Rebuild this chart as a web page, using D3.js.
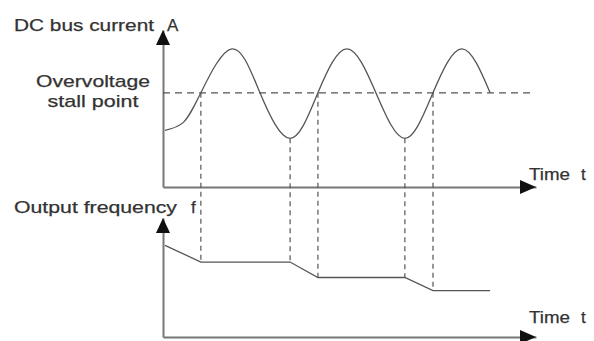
<!DOCTYPE html>
<html lang="en">
<head>
<meta charset="UTF-8" />
<title>Overvoltage stall</title>
<style>
  body { margin: 0; background: #fff; }
  svg text { font-family: "Liberation Sans", Arial, sans-serif; fill: #333; stroke: #333; stroke-width: 0.25px; }
</style>
</head>
<body>
<div id="chart"></div>
<script src="https://cdn.jsdelivr.net/npm/d3@7/dist/d3.min.js"></script>
<script>
// time in arbitrary units along both panels
var currentTimes  = [0.07, 0.7, 1.32, 2.40, 3.38, 4.43, 5.40, 6.41, 7.42, 8.43, 9.41, 10.42, 11.40];
var currentValues = [36,   41,  60,   88,   60,   31,   60,   88,   60,   31,   60,   88,    60];

var freqTimes  = [0.07, 1.32, 4.43, 5.40, 8.43, 9.41, 11.40];
var freqValues = [77,   63,   63,   50,   50,   39,   39];

var stallLevel = 60;
var stallEnd = 12.8;

// dashed drop lines: time, top (current) value, bottom (frequency) value
var markerTimes = [1.32, 4.43, 5.40, 8.43, 9.41];
var markerTop    = [60, 31, 60, 31, 60];
var markerBottom = [63, 63, 50, 50, 39];

var w = 594, h = 341;
var svg = d3.select("#chart").append("svg")
  .attr("width", w).attr("height", h);

var xScale = d3.scaleLinear().domain([0, 13]).range([163, 536]);
var yTop = d3.scaleLinear().domain([0, 100]).range([187, 30]);
var yBot = d3.scaleLinear().domain([0, 100]).range([337, 218]);

var axisColor = "#777";
var lineColor = "#555";

function drawAxes(yScale) {
  svg.append("g")
    .attr("transform", "translate(0," + yScale(0) + ")")
    .call(d3.axisBottom(xScale).tickValues([]).tickSizeOuter(0));
  svg.append("g")
    .attr("transform", "translate(" + xScale(0) + ",0)")
    .call(d3.axisLeft(yScale).tickValues([]).tickSizeOuter(0));
  svg.selectAll(".domain").attr("stroke", axisColor).attr("stroke-width", 2);

  // arrow heads
  var ax = xScale(13), ay = yScale(0);
  svg.append("path")
    .attr("d", "M" + ax + "," + ay + "L" + (ax - 16) + "," + (ay - 7) + "L" + (ax - 16) + "," + (ay + 7) + "Z")
    .attr("fill", "#111");
  var vx = xScale(0), vy = yScale(100);
  svg.append("path")
    .attr("d", "M" + vx + "," + vy + "L" + (vx - 7) + "," + (vy + 15) + "L" + (vx + 7) + "," + (vy + 15) + "Z")
    .attr("fill", "#111");
}
drawAxes(yTop);
drawAxes(yBot);

// stall level dashed line
svg.append("line")
  .attr("x1", xScale(0)).attr("x2", xScale(stallEnd))
  .attr("y1", yTop(stallLevel)).attr("y2", yTop(stallLevel))
  .attr("stroke", lineColor).attr("stroke-width", 1.2)
  .attr("stroke-dasharray", "7,5");

// drop lines
markerTimes.forEach(function(t, i) {
  svg.append("line")
    .attr("x1", xScale(t)).attr("x2", xScale(t))
    .attr("y1", yTop(markerTop[i])).attr("y2", yBot(markerBottom[i]))
    .attr("stroke", lineColor).attr("stroke-width", 1.2)
    .attr("stroke-dasharray", "5,4");
});

// current curve
var currentData = currentTimes.map(function(t, i) { return [t, currentValues[i]]; });
svg.append("path")
  .datum(currentData)
  .attr("fill", "none").attr("stroke", lineColor).attr("stroke-width", 1.3)
  .attr("d", d3.line()
    .x(function(d) { return xScale(d[0]); })
    .y(function(d) { return yTop(d[1]); })
    .curve(d3.curveNatural));

// frequency steps
var freqData = freqTimes.map(function(t, i) { return [t, freqValues[i]]; });
svg.append("path")
  .datum(freqData)
  .attr("fill", "none").attr("stroke", lineColor).attr("stroke-width", 1.3)
  .attr("d", d3.line()
    .x(function(d) { return xScale(d[0]); })
    .y(function(d) { return yBot(d[1]); }));

// labels
function label(txt, x, y, len, anchor) {
  var t = svg.append("text").attr("x", x).attr("y", y)
    .style("font-size", "17px").text(txt);
  if (len) t.attr("textLength", len).attr("lengthAdjust", "spacingAndGlyphs");
  if (anchor) t.attr("text-anchor", anchor);
  return t;
}
label("DC bus current", 14, 31, 140);
label("A", 167, 31);
label("Overvoltage", 93, 87, 114, "middle");
label("stall point", 93, 107, 91, "middle");
label("Output frequency", 14, 213, 163);
label("f", 191, 213);
label("Time", 529, 180, 41);
label("t", 581, 180);
label("Time", 529, 323, 41);
label("t", 581, 323);
</script>
</body>
</html>
